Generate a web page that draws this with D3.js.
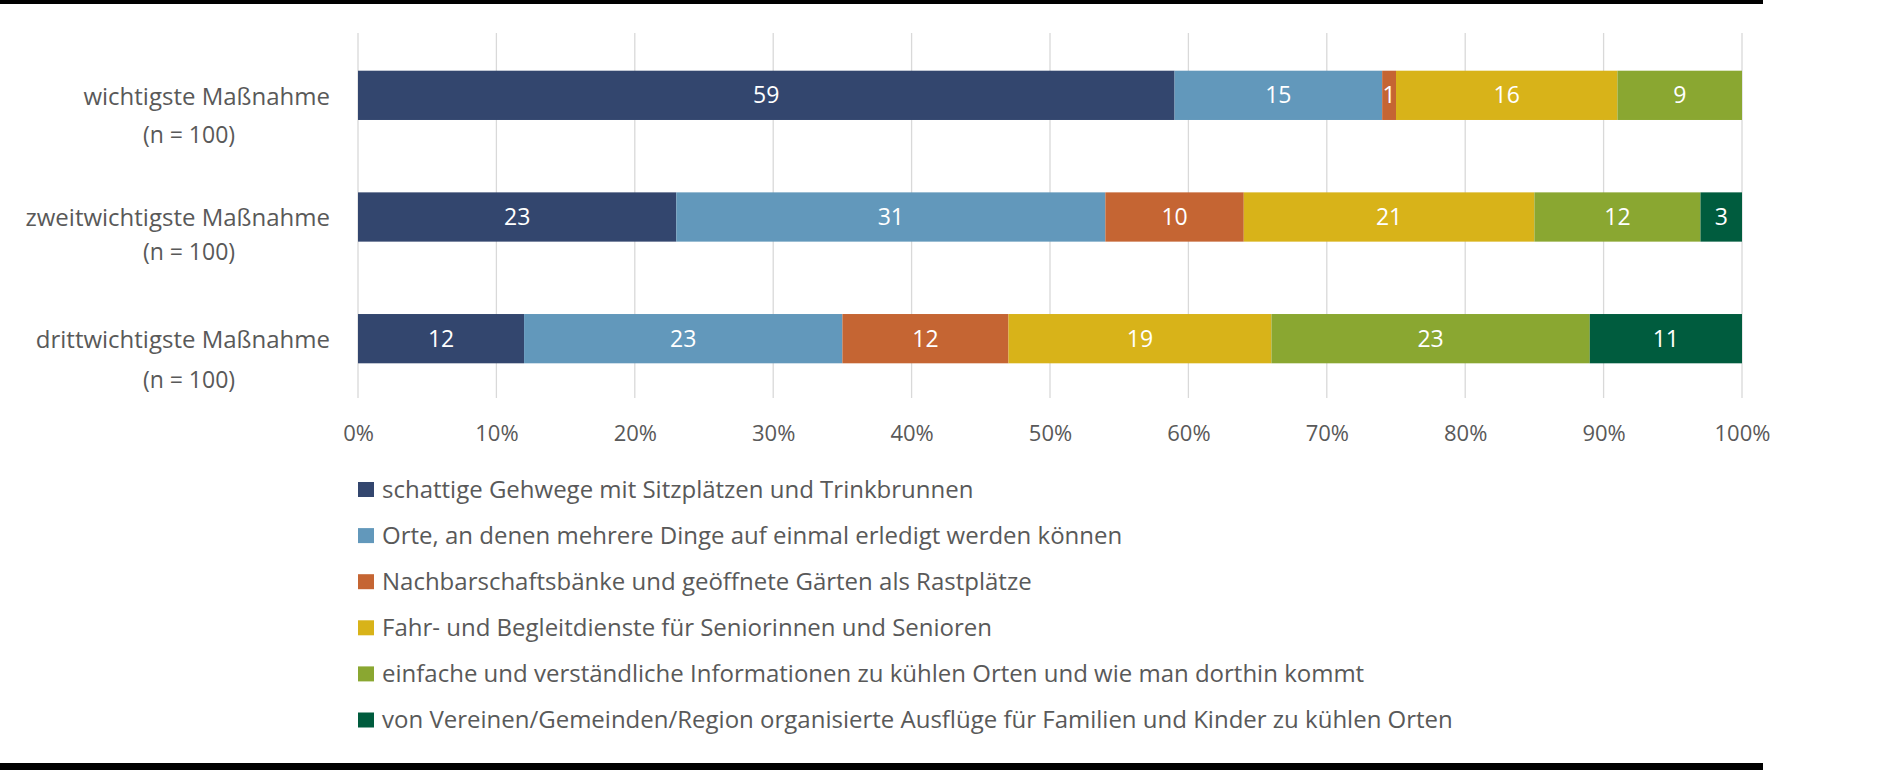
<!DOCTYPE html>
<html>
<head>
<meta charset="utf-8">
<script src="https://cdn.jsdelivr.net/npm/d3@7"></script>
<style>
  body { margin: 0; background: #fff; }
  text { font-family: "Open Sans", "Noto Sans", sans-serif; }
</style>
</head>
<body>
<div id="chart-area"></div>
<script>
// data
let categories = ["wichtigste Maßnahme", "zweitwichtigste Maßnahme", "drittwichtigste Maßnahme"];
let sampleLabels = ["(n = 100)", "(n = 100)", "(n = 100)"];
let seriesNames = [
    "schattige Gehwege mit Sitzplätzen und Trinkbrunnen",
    "Orte, an denen mehrere Dinge auf einmal erledigt werden können",
    "Nachbarschaftsbänke und geöffnete Gärten als Rastplätze",
    "Fahr- und Begleitdienste für Seniorinnen und Senioren",
    "einfache und verständliche Informationen zu kühlen Orten und wie man dorthin kommt",
    "von Vereinen/Gemeinden/Region organisierte Ausflüge für Familien und Kinder zu kühlen Orten"
];
// one array per series, values for the three categories
let shadyPaths = [59, 23, 12];
let multiPlaces = [15, 31, 23];
let benches = [1, 10, 12];
let driveServices = [16, 21, 19];
let coolInfo = [9, 12, 23];
let excursions = [0, 3, 11];
let tickValues = [0, 10, 20, 30, 40, 50, 60, 70, 80, 90, 100];

let seriesValues = [shadyPaths, multiPlaces, benches, driveServices, coolInfo, excursions];
let colors = ["#33466e", "#6298bb", "#c56533", "#d8b319", "#8aa731", "#005c3e"];

let width = 1890;
let height = 770;
let plot = { left: 358, right: 1742, top: 33, bottom: 398 };

let svg = d3.select("#chart-area")
    .append("svg")
    .attr("width", width)
    .attr("height", height);

// frame lines top and bottom
svg.append("rect").attr("x", 0).attr("y", 0).attr("width", 1763).attr("height", 4).attr("fill", "#000");
svg.append("rect").attr("x", 0).attr("y", 763).attr("width", 1763).attr("height", 7).attr("fill", "#000");

let x = d3.scaleLinear()
    .domain([0, 100])
    .range([plot.left, plot.right]);

let y = d3.scaleBand()
    .domain(categories)
    .range([plot.top + 1.5, plot.bottom + 1.5])
    .paddingInner(0.595)
    .paddingOuter(0.2975);

// grid lines
svg.append("g")
    .attr("class", "grid")
    .selectAll("line")
    .data(tickValues)
    .enter()
    .append("line")
    .attr("x1", d => x(d))
    .attr("x2", d => x(d))
    .attr("y1", plot.top)
    .attr("y2", plot.bottom)
    .attr("stroke", "#d9d9d9")
    .attr("stroke-width", 1.3);

// X axis labels
let xAxis = d3.axisBottom(x)
    .tickValues(tickValues)
    .tickSize(0)
    .tickPadding(0)
    .tickFormat(d => d + "%");

let xAxisG = svg.append("g")
    .attr("class", "x-axis")
    .attr("transform", "translate(0," + 433 + ")")
    .call(xAxis);
xAxisG.select(".domain").remove();
xAxisG.selectAll("text")
    .attr("y", 0)
    .attr("dy", "0.35em")
    .attr("fill", "#595959")
    .style("font-size", "22px");

// stacked data
let rows = categories.map((c, i) => {
    let x0 = 0;
    return seriesValues.map((vals, s) => {
        let seg = { cat: c, series: s, value: vals[i], x0: x0, x1: x0 + vals[i] };
        x0 += vals[i];
        return seg;
    });
});
let segments = rows.flat().filter(d => d.value > 0);

let barsGroup = svg.append("g").attr("class", "bars-group");

barsGroup.selectAll("rect")
    .data(segments)
    .enter()
    .append("rect")
    .attr("x", d => x(d.x0))
    .attr("y", d => y(d.cat))
    .attr("width", d => x(d.x1) - x(d.x0))
    .attr("height", y.bandwidth())
    .attr("fill", d => colors[d.series]);

barsGroup.selectAll("text")
    .data(segments)
    .enter()
    .append("text")
    .attr("x", d => (x(d.x0) + x(d.x1)) / 2)
    .attr("y", d => y(d.cat) + y.bandwidth() / 2)
    .attr("dy", "0.35em")
    .attr("text-anchor", "middle")
    .attr("fill", "#fff")
    .style("font-size", "23px")
    .text(d => d.value);

// category labels
let nGap = [40, 35, 41];
let catGroup = svg.append("g").attr("class", "cat-labels");
catGroup.selectAll("text.cat")
    .data(categories)
    .enter()
    .append("text")
    .attr("class", "cat")
    .attr("x", 330)
    .attr("y", d => y(d) + y.bandwidth() / 2 + 1)
    .attr("dy", "0.35em")
    .attr("text-anchor", "end")
    .attr("fill", "#595959")
    .style("font-size", "24px")
    .text(d => d);

catGroup.selectAll("text.n")
    .data(sampleLabels)
    .enter()
    .append("text")
    .attr("class", "n")
    .attr("x", 189)
    .attr("y", (d, i) => y(categories[i]) + y.bandwidth() / 2 + nGap[i])
    .attr("dy", "0.35em")
    .attr("text-anchor", "middle")
    .attr("fill", "#595959")
    .style("font-size", "23px")
    .text(d => d);

// legend
let legend = svg.append("g")
    .attr("class", "legend")
    .selectAll("g")
    .data(seriesNames)
    .enter()
    .append("g")
    .attr("transform", (d, i) => "translate(358," + (489.5 + i * 46.1) + ")");

legend.append("rect")
    .attr("x", 0)
    .attr("y", -7.5)
    .attr("width", 16)
    .attr("height", 15)
    .attr("fill", (d, i) => colors[i]);

legend.append("text")
    .attr("x", 24)
    .attr("y", 0)
    .attr("dy", "0.35em")
    .attr("fill", "#595959")
    .style("font-size", "24px")
    .text(d => d);
</script>
</body>
</html>
